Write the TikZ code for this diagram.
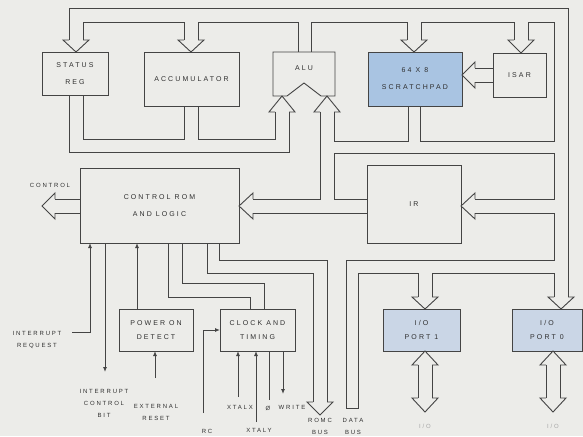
\documentclass[tikz,border=0pt]{standalone}
\usepackage{fontspec}
\newfontfamily\lblfont[LetterSpace=30]{Liberation Sans}
\usepackage{tikz}
\usetikzlibrary{arrows.meta, positioning, calc}
\usepackage{xcolor}
\definecolor{Paper}{HTML}{ECECE9}
\definecolor{Ink}{HTML}{444444}
\definecolor{Lettering}{HTML}{2F2F2F}
\definecolor{PadBlue}{HTML}{A9C4E2}
\definecolor{PortBlue}{HTML}{CAD6E6}
\definecolor{Faint}{HTML}{A5A5A5}

\tikzset{
  blk/.style={draw=Ink, line width=0.9pt, inner sep=0pt, outer sep=0pt, align=center,
    text=Lettering, font={\lblfont\fontsize{7}{17}\selectfont}},
  smallblk/.style={blk, font={\lblfont\fontsize{7}{13.5}\selectfont}},
  lbl/.style={inner sep=0pt, align=center, text=Lettering, font={\lblfont\fontsize{6}{12}\selectfont}},
  bus/.style={draw=Ink, line width=0.9pt},
  sig/.style={draw=Ink, line width=0.9pt, -{Latex[length=5pt,width=4pt]}},
}

\begin{document}
\begin{tikzpicture}[x=1pt, y=-1pt, >=Stealth]
  \fill[Paper] (0,0) rectangle (583,436);
  \useasboundingbox (0,0) rectangle (583,436);

  % blocks
  \node[blk, minimum width=66, minimum height=43] (status) at (75,73.5) {STATUS\\REG};
  \node[blk, minimum width=95, minimum height=54] (acc) at (191.5,79) {ACCUMULATOR};
  \draw[bus] (273,52) -- (335,52) -- (335,96) -- (321,96) -- (304,83) -- (287,96) -- (273,96) -- cycle;
  \node[blk, draw=none] (alu) at (304,68) {ALU};
  \node[blk, fill=PadBlue, minimum width=94, minimum height=54] (pad) at (415,79) {64 X 8\\SCRATCHPAD};
  \node[blk, minimum width=53, minimum height=44] (isar) at (519.5,75) {ISAR};
  \node[blk, minimum width=159, minimum height=75] (ctrl) at (159.5,205.5) {CONTROL ROM\\AND LOGIC};
  \node[blk, minimum width=94, minimum height=78] (ir) at (414,204) {IR};
  \node[smallblk, minimum width=74, minimum height=42] (power) at (156,330) {POWER ON\\DETECT};
  \node[smallblk, minimum width=75, minimum height=42] (clock) at (257.5,330) {CLOCK AND\\TIMING};
  \node[smallblk, fill=PortBlue, minimum width=77, minimum height=42] (port1) at (421.5,330) {I/O\\PORT 1};
  \node[smallblk, fill=PortBlue, minimum width=70, minimum height=42] (port0) at (547,330) {I/O\\PORT 0};

  % hollow bus heads, vertical: centre/base/tip
  \foreach \cx/\yb/\yt in {76/40/52, 191/40/52, 414/40/52, 521/40/53, 282/112/96, 327/112/96,
      425/297/309, 561/297/309, 320/402/415, 425/365/351, 425/398/412, 553/365/351, 553/398/412}
    \draw[bus] (\cx-7,\yb) -- (\cx-13,\yb) -- (\cx,\yt) -- (\cx+13,\yb) -- (\cx+7,\yb);
  % hollow bus heads, horizontal: base/tip/centre
  \foreach \xb/\xt/\cy in {55/42/206, 253/239/206, 475/461/206, 475/462/75}
    \draw[bus] (\xb,\cy-7) -- (\xb,\cy-13) -- (\xt,\cy) -- (\xb,\cy+13) -- (\xb,\cy+7);

  % data bus
  \draw[bus] (83,40) -- (83,22) -- (184,22) -- (184,40);
  \draw[bus] (198,40) -- (198,22) -- (298,22) -- (298,52);
  \draw[bus] (311,52) -- (311,22) -- (407,22) -- (407,40);
  \draw[bus] (421,40) -- (421,22) -- (514,22) -- (514,40);
  \draw[bus] (528,40) -- (528,22) -- (554,22) -- (554,141) -- (420,141) -- (420,106);
  \draw[bus] (408,106) -- (408,141) -- (334,141) -- (334,112);
  \draw[bus] (320,112) -- (320,199) -- (253,199);
  \draw[bus] (253,213) -- (367,213);
  \draw[bus] (367,199) -- (334,199) -- (334,153) -- (554,153) -- (554,199) -- (475,199);
  \draw[bus] (475,213) -- (554,213) -- (554,260) -- (346,260) -- (346,408) -- (358,408)
    -- (358,273) -- (418,273) -- (418,297);
  \draw[bus] (432,297) -- (432,273) -- (554,273) -- (554,297);
  \draw[bus] (568,297) -- (568,8) -- (69,8) -- (69,40);
  \draw[bus] (275,112) -- (275,139) -- (198,139) -- (198,106);
  \draw[bus] (184,106) -- (184,139) -- (83,139) -- (83,95);
  \draw[bus] (69,95) -- (69,152) -- (289,152) -- (289,112);
  \draw[bus] (493,68) -- (475,68) (493,82) -- (475,82);
  \draw[bus] (80,199) -- (55,199) (80,213) -- (55,213);
  \draw[bus] (418,365) -- (418,398) (432,365) -- (432,398);
  \draw[bus] (546,365) -- (546,398) (560,365) -- (560,398);

  % lines below control rom
  \draw[bus] ([xshift=139pt]ctrl.south west) -- ++(0,17) -| (327,402);
  \draw[bus] ([xshift=127pt]ctrl.south west) -- ++(0,30) -| (313,402);
  \draw[bus] ([xshift=88pt]ctrl.south west) -- ++(0,54) -| ([xshift=30pt]clock.north west);
  \draw[bus] ([xshift=102pt]ctrl.south west) -- ++(0,40) -| ([xshift=44pt]clock.north west);
  \coordinate (irqin) at (72,332);
  \coordinate (icbout) at (105,372);
  \coordinate (extin) at (155,378);
  \coordinate (rcin) at (203,413);
  \coordinate (xtalxin) at (238,397);
  \coordinate (xtalyin) at (256,422);
  \draw[sig] (irqin) -| ([xshift=10pt]ctrl.south west);
  \draw[sig] ([xshift=25pt]ctrl.south west) -- (icbout);
  \draw[sig] ([xshift=18pt]power.north west) -- ([xshift=57pt]ctrl.south west);
  \draw[sig] (extin) -- (extin |- power.south);
  \draw[sig] (rcin) |- (clock.west);
  \draw[sig] (xtalxin) -- (xtalxin |- clock.south);
  \draw[sig] (xtalyin) -- (xtalyin |- clock.south);
  \draw[bus] ([xshift=49pt]clock.south west) -- ++(0,49);
  \draw[sig] ([xshift=63pt]clock.south west) -- ++(0,43);

  % labels
  \node[lbl] (ctltxt) at (50,185) {CONTROL};
  \node[lbl] (irqtxt) at (37,340) {INTERRUPT\\REQUEST};
  \node[lbl] (icbtxt) at (104,403) {INTERRUPT\\CONTROL\\BIT};
  \node[lbl] (exttxt) at (156,412) {EXTERNAL\\RESET};
  \node[lbl] (rctxt) at (207,431) {RC};
  \node[lbl] (xtalxtxt) at (240,407) {XTALX};
  \node[lbl] (xtalytxt) at (259,430) {XTALY};
  \node[lbl] (phitxt) at (268,408) {Ø};
  \node[lbl] (writetxt) at (292,407) {WRITE};
  \node[lbl] (romctxt) at (320,426) {ROMC\\BUS};
  \node[lbl] (datatxt) at (353,426) {DATA\\BUS};
  \node[lbl, text=Faint] (io1txt) at (425,426) {I/O};
  \node[lbl, text=Faint] (io0txt) at (553,426) {I/O};
\end{tikzpicture}
\end{document}
